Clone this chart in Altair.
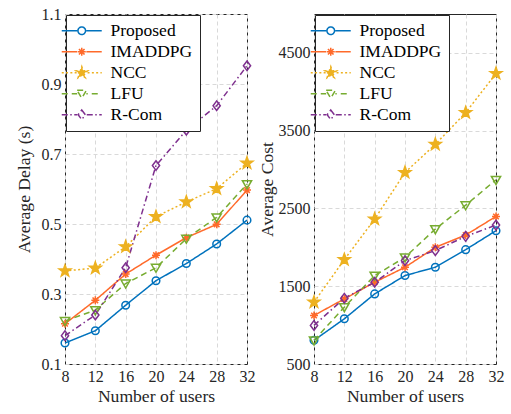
import math
import altair as alt
import pandas as pd

# ---------------- data ----------------
users = [8, 12, 16, 20, 24, 28, 32]
methods = ["Proposed", "IMADDPG", "NCC", "LFU", "R-Com"]

delay_proposed = [0.160, 0.195, 0.268, 0.338, 0.387, 0.443, 0.511]
delay_imaddpg = [0.215, 0.282, 0.357, 0.411, 0.461, 0.499, 0.597]
delay_ncc = [0.366, 0.374, 0.435, 0.521, 0.563, 0.601, 0.674]
delay_lfu = [0.223, 0.254, 0.330, 0.375, 0.458, 0.519, 0.614]
delay_rcom = [0.181, 0.240, 0.375, 0.667, 0.768, 0.838, 0.952]

cost_proposed = [804, 1081, 1401, 1637, 1744, 1970, 2214]
cost_imaddpg = [1124, 1337, 1551, 1744, 2000, 2158, 2397]
cost_ncc = [1295, 1842, 2363, 2962, 3324, 3731, 4235]
cost_lfu = [804, 1231, 1637, 1872, 2235, 2542, 2868]
cost_rcom = [996, 1346, 1551, 1829, 1958, 2141, 2286]

delay_ticks = [0.1, 0.3, 0.5, 0.7, 0.9, 1.1]
cost_ticks = [500, 1500, 2500, 3500, 4500]

# ---------------- style ----------------
FONT = "Liberation Serif"
TXT = "#262626"
colors = ["#0072BD", "#FF6A2A", "#EDB120", "#77AC30", "#7E2F8E"]
fills = ["transparent", "#FF6A2A", "#EDB120", "transparent", "transparent"]
dashes = [[1, 0], [1, 0], [2, 2.4], [6, 4], [6, 3, 1.5, 3]]
UNIT = 4.0  # px per path unit at size 64


def star_path(R, r):
    pts = []
    for k in range(10):
        ang = math.radians(-90 + 36 * k)
        rad = R if k % 2 == 0 else r
        pts.append((rad * math.cos(ang), rad * math.sin(ang)))
    return "M" + "L".join(f"{x:.3f},{y:.3f}" for x, y in pts) + "Z"


marker_paths = [
    "M0.95,0A0.95,0.95 0 1,1 -0.95,0A0.95,0.95 0 1,1 0.95,0Z",
    "M-1,0H1M0,-1V1M-0.7,-0.7L0.7,0.7M-0.7,0.7L0.7,-0.7",
    star_path(1.55, 0.62),
    "M-1.15,-0.85L1.15,-0.85L0,1.15Z",
    "M0,-1.2L0.9,0L0,1.2L-0.9,0Z",
]
dash_px = [None, None, [2, 2.3], [6, 4], [6, 2.5, 1.5, 2.5]]


def line_path(pattern, half=5.0, gap=1.15):
    spans = [(-half, -gap), (gap, half)]
    segs = []
    if pattern is None:
        segs = spans
    else:
        x, i, on = -half, 0, True
        while x < half:
            L = pattern[i % len(pattern)] / UNIT
            if on:
                for lo, hi in spans:
                    a, b = max(x, lo), min(x + L, hi)
                    if b > a + 0.05:
                        segs.append((a, b))
            x += L
            i += 1
            on = not on
    return "".join(f"M{a:.3f},0H{b:.3f}" for a, b in segs)


legend_paths = [line_path(d) + m for d, m in zip(dash_px, marker_paths)]
color_of = dict(zip(methods, colors))
fill_of = dict(zip(methods, fills))
marker_of = dict(zip(methods, marker_paths))

axis_style = dict(
    labelFont=FONT, labelFontSize=16, labelColor=TXT,
    titleFont=FONT, titleFontSize=17.6, titleFontWeight="normal", titleColor=TXT,
    domain=False, grid=True, gridColor="#d9d9d9", gridDash=[4, 3], gridWidth=1,
    ticks=False, labelPadding=4,
)


def panel(series, ydomain, yticks, yfmt, ytitle, ytitle_pad):
    rows = []
    for m, vals in zip(methods, series):
        for u, v in zip(users, vals):
            rows.append({"users": u, "value": v, "method": m,
                         "marker": marker_of[m], "col": color_of[m], "fillcol": fill_of[m]})
    df = pd.DataFrame(rows)

    x = alt.X("users:Q", scale=alt.Scale(domain=[8, 32], nice=False),
              axis=alt.Axis(values=users, title="Number of users", format="d",
                            titlePadding=3, labelFlush=False, **axis_style))
    y = alt.Y("value:Q", scale=alt.Scale(domain=ydomain, nice=False, zero=False),
              axis=alt.Axis(values=yticks, format=yfmt, title=ytitle,
                            titlePadding=ytitle_pad, **axis_style))

    base = alt.Chart(df)
    lines = base.mark_line(strokeWidth=1.5).encode(
        x=x, y=y,
        color=alt.Color("col:N", scale=None),
        detail="method:N",
        strokeDash=alt.StrokeDash("method:N", scale=alt.Scale(domain=methods, range=dashes), legend=None),
    )
    points = base.mark_point(filled=False, size=64, strokeWidth=1.5, opacity=1).encode(
        x=x, y=y,
        color=alt.Color("col:N", scale=None),
        fill=alt.Fill("fillcol:N", scale=None),
        shape=alt.Shape("marker:N", scale=None),
    )
    leg = alt.Legend(
        title=None, orient="top-left", offset=1, padding=7, rowPadding=2,
        labelFont=FONT, labelFontSize=17.5, labelColor="black", labelOffset=20,
        symbolSize=64, symbolStrokeWidth=1.5, strokeColor=TXT, fillColor="white",
        cornerRadius=0,
    )
    # invisible layer that only feeds the legend (kept to the middle of the plot)
    legend_layer = base.transform_filter(alt.datum.users == 20).mark_point(
        filled=False, size=64, strokeWidth=1.5, opacity=0, clip=True
    ).encode(
        x=x, y=y,
        color=alt.Color("method:N", scale=alt.Scale(domain=methods, range=colors), legend=leg),
        fill=alt.Fill("method:N", scale=alt.Scale(domain=methods, range=fills), legend=leg),
        shape=alt.Shape("method:N", scale=alt.Scale(domain=methods, range=legend_paths), legend=leg),
    )
    return alt.layer(lines, points, legend_layer).properties(width=182, height=350)


left = panel([delay_proposed, delay_imaddpg, delay_ncc, delay_lfu, delay_rcom],
             [0.1, 1.1], delay_ticks, ".1f", "Average Delay (s)", 8)
right = panel([cost_proposed, cost_imaddpg, cost_ncc, cost_lfu, cost_rcom],
              [500, 5000], cost_ticks, "d", "Average Cost", 2)

chart = alt.hconcat(left, right, spacing=0).resolve_scale(
    color="independent", fill="independent", shape="independent", strokeDash="independent"
).properties(
    padding={"left": 14, "top": 5, "right": 1, "bottom": 2}
).configure(
    font=FONT,
    style={"guide-label": {"font": FONT}, "guide-title": {"font": FONT}},
).configure_axis(
    labelFont=FONT, titleFont=FONT
).configure_view(
    stroke=TXT, strokeWidth=1
)

chart.save("out.html", embed_options={"renderer": "svg", "actions": False})
